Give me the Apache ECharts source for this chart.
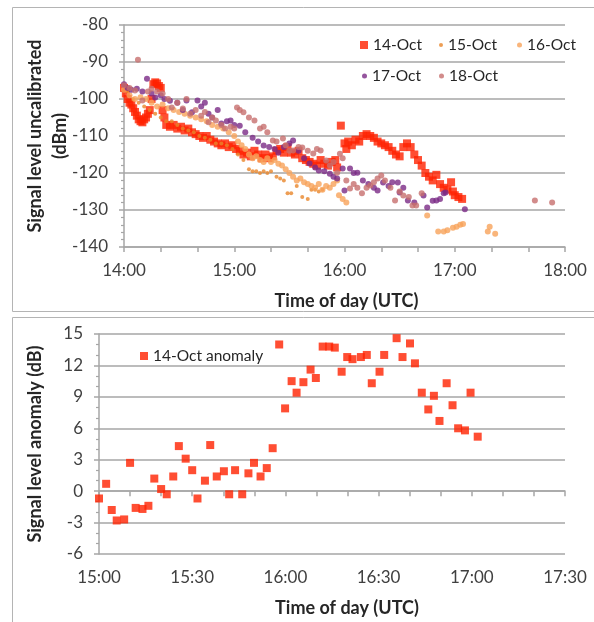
<!DOCTYPE html>
<html>
<head>
<meta charset="utf-8">
<script src="https://cdn.jsdelivr.net/npm/echarts@6/dist/echarts.min.js"></script>
<style>
  html, body { margin: 0; padding: 0; background: #fff; }
  #chart { width: 594px; height: 622px; }
</style>
</head>
<body>
<div id="chart"></div>
<script>
// top panel: [minutes after 14:00, signal dBm]
const oct14 = [
  [0, -97], [1, -98.5], [2, -100], [3, -101], [4, -101.5], [5, -102.5], [6, -103.5], [7, -104.5],
  [8, -105.5], [9, -106], [10, -106.3], [11, -105.5], [12, -105], [13, -104], [14, -103], [15, -100],
  [16, -96], [17, -95.5], [18, -95.8], [19, -96.5], [20, -97], [21, -103], [22, -105], [23, -107],
  [25, -107.5], [27, -107], [29, -108], [31, -107.5], [33, -108.5], [35, -108], [37, -109], [39, -109.5],
  [41, -110], [43, -110.5], [45, -110], [47, -111], [49, -111.5], [51, -112], [53, -112.5], [55, -112],
  [57, -113], [59, -112.5], [61, -113.5], [63, -114], [65, -115], [67, -114.5], [69, -115.5], [71, -114],
  [73, -115], [75, -116], [77, -115], [79, -116], [81, -115.5], [83, -114], [85, -113.5], [87, -114.5],
  [89, -113], [91, -114.5], [93, -115], [95, -114], [97, -116], [99, -116.5], [101, -117], [103, -117.5],
  [105, -118], [107, -116.5], [109, -117.5], [111, -118], [113, -117], [115, -116.5], [116, -118.5],
  [118, -107.2], [120, -112], [121, -113.5], [122, -111.5], [124, -112.5], [126, -111], [128, -111.5],
  [130, -110], [132, -109.5], [134, -110], [136, -110.5], [138, -111.5], [140, -112], [142, -112.5],
  [144, -113], [146, -114], [148, -115], [150, -115.5], [152, -113], [154, -112], [156, -113],
  [158, -115], [160, -116.5], [162, -118], [164, -120], [166, -121], [168, -122], [170, -120.5],
  [172, -123], [174, -124], [176, -124.5], [178, -122.5], [179, -125], [180, -126], [182, -126.5], [184, -127]
];
const oct15 = [
  [2, -98], [5, -100], [8, -101], [11, -102], [14, -103], [17, -104], [20, -105], [23, -106],
  [26, -106], [29, -107], [32, -108], [35, -108.5], [38, -109], [41, -110], [44, -110.5], [47, -111],
  [50, -112], [53, -112], [56, -112.5], [59, -113.5], [62, -115], [65, -116.5], [68, -119], [70, -119.5],
  [72, -119.5], [74, -120], [76, -119.5], [78, -120], [80, -119.5], [83, -121], [85, -121.5], [87, -122],
  [89, -125.5], [91, -125.5], [94, -123.5], [97, -126.5], [100, -127], [102, -124.5], [104, -124.5],
  [106, -125], [108, -124.5]
];
const oct16 = [
  [0, -97.5], [3, -99], [6, -100], [9, -99.5], [12, -100], [15, -101], [18, -102], [21, -101.5],
  [24, -102.5], [27, -103], [30, -103.5], [33, -104], [36, -104.5], [39, -105], [42, -105.5], [45, -106],
  [48, -107], [51, -107.5], [54, -108], [57, -109], [60, -110], [62, -111.5], [64, -112.5], [66, -113.5],
  [68, -115], [70, -116], [72, -115.5], [74, -116.5], [76, -117], [78, -116], [80, -117], [82, -116.5],
  [84, -117.5], [86, -118], [88, -119], [90, -120], [92, -121], [94, -122], [96, -121.5], [98, -122.5],
  [100, -123], [102, -123.5], [104, -124], [106, -123], [108, -124.5], [110, -123.5], [112, -124],
  [114, -123], [116, -122], [117, -126], [119, -127], [121, -128],
  [165, -131.5], [171, -135.8], [174, -135.8], [176, -135.5], [179, -134.8], [181, -134.5], [183, -134],
  [184.5, -133.8], [198, -135.8], [199, -134.5], [202, -136.4]
];
const oct17 = [
  [0, -96], [2, -97], [4, -97.5], [7, -97.2], [10, -98], [12.5, -94.5], [15, -98.5], [17, -99.6],
  [20, -99], [22, -100], [25, -100.5], [29, -101], [32, -103], [34, -100.4], [37, -103.6], [40, -100.4],
  [42, -102], [44, -101], [46, -104], [48, -105], [51, -103], [53, -106.6], [56, -106], [58, -105.8],
  [60, -107], [63, -107.2], [66, -109], [70, -110.5], [73, -111.5], [76, -112.6], [79, -113], [82, -113.5],
  [84, -114.5], [87, -113], [90, -112], [92, -111.2], [95, -114], [98, -116], [101, -117.4], [104, -118.5],
  [106, -119.3], [109, -119.5], [112, -120.2], [114, -121], [116, -121.5], [119, -118.8], [120, -124.7],
  [123, -118.8], [125, -120], [127, -119.9], [130, -122], [133, -123], [136, -124], [138, -124.7],
  [141, -122.6], [144, -123.5], [146, -122.5], [149, -122.6], [150, -125.3], [152, -124], [154.5, -127.4],
  [158, -128], [163, -126.1], [165, -129.3], [168, -127.5], [170, -127.4], [172, -127], [174, -125.5],
  [175, -125.3], [185.5, -129.8]
];
const oct18 = [
  [0, -96.3], [3, -97], [6, -97.7], [7.6, -89.4], [10, -100.4], [13, -98], [15, -97.2], [18, -98],
  [21, -98.5], [24, -100], [26, -102.3], [29, -101], [32, -102.6], [34, -100], [36, -104], [39, -103],
  [42, -104.5], [44, -103.5], [46, -106.3], [48, -105], [50, -105.8], [53, -107], [55, -108], [58, -107.5],
  [60, -108], [61.5, -102.3], [63, -103], [65, -103.6], [68, -105], [71, -105.8], [74, -108], [76, -107.5],
  [78, -109], [81, -111.2], [83, -111.5], [86.5, -110.7], [88, -112.5], [90, -114], [92, -113.9], [95, -113],
  [97, -113.1], [100, -114], [103, -114.7], [105, -113.5], [107, -113.9], [110, -116.6], [112, -118],
  [114, -117], [116, -119.9], [117.5, -114.8], [119, -116], [121, -122], [123, -124.2], [125, -123],
  [127, -124], [129.5, -125.5], [132, -124], [134, -123.4], [136, -122.5], [138, -121.5], [140, -120.7],
  [142, -122], [145, -124], [147.5, -127.4], [150, -125], [152, -126.1], [155, -126.5], [157, -128.8],
  [159, -128.8], [162, -125.5], [223.6, -127.4], [233, -128]
];

// bottom panel: [minutes after 15:00, anomaly dB]
const anomaly14 = [
  [0, -0.7], [2.3, 0.7], [4.1, -1.8], [5.7, -2.8], [8.1, -2.7], [10, 2.7], [11.8, -1.6], [14, -1.7],
  [15.9, -1.4], [17.8, 1.2], [20, 0.2], [21.8, -0.3], [23.9, 1.4], [25.7, 4.3], [27.9, 3.1], [30, 2.0],
  [31.7, -0.7], [34.1, 1.0], [35.8, 4.4], [37.9, 1.4], [40.2, 1.9], [41.9, -0.3], [43.8, 2.0], [46.1, -0.3],
  [48.1, 1.7], [49.9, 2.7], [52, 1.4], [54, 2.2], [55.9, 4.1], [58, 14.0], [59.9, 7.9], [62, 10.5],
  [63.6, 9.4], [65.8, 10.4], [68.1, 11.6], [69.8, 10.8], [72, 13.8], [74.1, 13.8], [75.9, 13.7], [78.1, 11.4],
  [79.9, 12.8], [81.6, 12.6], [84.3, 12.8], [86.2, 13.0], [87.8, 10.3], [90.3, 11.4], [91.8, 13.0],
  [95.8, 14.6], [97.7, 12.8], [100.1, 14.1], [101.7, 12.2], [103.9, 9.4], [106, 7.8], [107.8, 9.1],
  [109.6, 6.7], [111.9, 10.3], [113.8, 8.2], [115.6, 6.0], [117.8, 5.8], [119.6, 9.4], [121.9, 5.2]
];

const topStartHour = 14;
const bottomStartHour = 15;

const font = "Lato, 'Open Sans', sans-serif";
const gridGray = "#A6A6A6";
const labelColor = "#404040";
const titleStyle = { fontFamily: font, fontSize: 18, fontWeight: "bold", color: "#262626", lineHeight: 25 };

function clock(startHour, step) {
  return (v) => {
    if (v % step !== 0) return "";
    const h = startHour + Math.floor(v / 60);
    const m = v % 60;
    return h + ":" + (m < 10 ? "0" + m : m);
  };
}

function xAxisBase(gridIndex, max, interval, startHour, labelStep, shift) {
  return {
    type: "value",
    gridIndex,
    min: 0,
    max,
    interval,
    name: "Time of day (UTC)",
    nameLocation: "middle",
    nameGap: 42,
    nameMoveOverlap: false,
    nameTextStyle: Object.assign({}, titleStyle, { padding: [0, 0, 0, shift] }),
    axisLine: { lineStyle: { color: gridGray, width: 1.5 } },
    axisTick: { show: true, length: 5, lineStyle: { color: gridGray, width: 1.5 } },
    axisLabel: { formatter: clock(startHour, labelStep), margin: 15, fontFamily: font, fontSize: 17, color: labelColor },
    splitLine: { show: false }
  };
}

function yAxisBase(gridIndex, min, max, interval, minorSplit, name, gap) {
  return {
    type: "value",
    gridIndex,
    min,
    max,
    interval,
    name,
    nameLocation: "middle",
    nameGap: gap,
    nameMoveOverlap: false,
    nameTextStyle: titleStyle,
    axisLine: { show: true, lineStyle: { color: gridGray, width: 1.5 } },
    axisTick: { show: true, length: 5, lineStyle: { color: gridGray, width: 1.5 } },
    minorTick: { show: true, splitNumber: minorSplit, length: 3, lineStyle: { color: gridGray, width: 1.2 } },
    axisLabel: { margin: 16, fontFamily: font, fontSize: 17, color: labelColor },
    splitLine: { show: true, lineStyle: { color: gridGray, width: 1.5 } }
  };
}

function legendAt(name, left, top, size, icon) {
  return {
    data: [{ name, icon }],
    left,
    top,
    itemWidth: size,
    itemHeight: size,
    textStyle: { fontFamily: font, fontSize: 15.5, color: "#262626" },
    selectedMode: false
  };
}

const chart = echarts.init(document.getElementById("chart"));

chart.setOption({
  animation: false,
  graphic: [
    { type: "rect", shape: { x: 12.5, y: 7.5, width: 620, height: 304 }, style: { fill: "none", stroke: "#B4B4B4", lineWidth: 1 } },
    { type: "rect", shape: { x: 12.5, y: 317.5, width: 620, height: 340 }, style: { fill: "none", stroke: "#B4B4B4", lineWidth: 1 } }
  ],
  grid: [
    { left: 124, top: 25, width: 441, height: 222 },
    { left: 99, top: 334, width: 466, height: 223 }
  ],
  legend: [
    legendAt("14-Oct", 355, 32, 8, "rect"),
    legendAt("15-Oct", 434, 32, 4, "circle"),
    legendAt("16-Oct", 512, 32, 5, "circle"),
    legendAt("17-Oct", 357, 63, 5, "circle"),
    legendAt("18-Oct", 434, 63, 5, "circle"),
    legendAt("14-Oct anomaly", 135, 343, 8, "rect")
  ],
  xAxis: [
    xAxisBase(0, 240, 20, topStartHour, 60, 4),
    xAxisBase(1, 150, 10, bottomStartHour, 30, 30)
  ],
  yAxis: [
    yAxisBase(0, -140, -80, 10, 5, "Signal level uncalibrated\n(dBm)", 51),
    yAxisBase(1, -6, 15, 3, 3, "Signal level anomaly (dB)", 51)
  ],
  series: [
    { name: "14-Oct", type: "scatter", xAxisIndex: 0, yAxisIndex: 0, symbol: "rect", symbolSize: 8, itemStyle: { color: "#FF2200" }, data: oct14 },
    { name: "15-Oct", type: "scatter", xAxisIndex: 0, yAxisIndex: 0, symbol: "circle", symbolSize: 4, itemStyle: { color: "#E8862A" }, data: oct15 },
    { name: "16-Oct", type: "scatter", xAxisIndex: 0, yAxisIndex: 0, symbol: "circle", symbolSize: 6, itemStyle: { color: "#F8A35A" }, data: oct16 },
    { name: "17-Oct", type: "scatter", xAxisIndex: 0, yAxisIndex: 0, symbol: "circle", symbolSize: 6, itemStyle: { color: "#7A2A86" }, data: oct17 },
    { name: "18-Oct", type: "scatter", xAxisIndex: 0, yAxisIndex: 0, symbol: "circle", symbolSize: 6, itemStyle: { color: "#C76F6E" }, data: oct18 },
    { name: "14-Oct anomaly", type: "scatter", xAxisIndex: 1, yAxisIndex: 1, symbol: "rect", symbolSize: 8, itemStyle: { color: "#FF2200" }, data: anomaly14 }
  ]
});
</script>
</body>
</html>
